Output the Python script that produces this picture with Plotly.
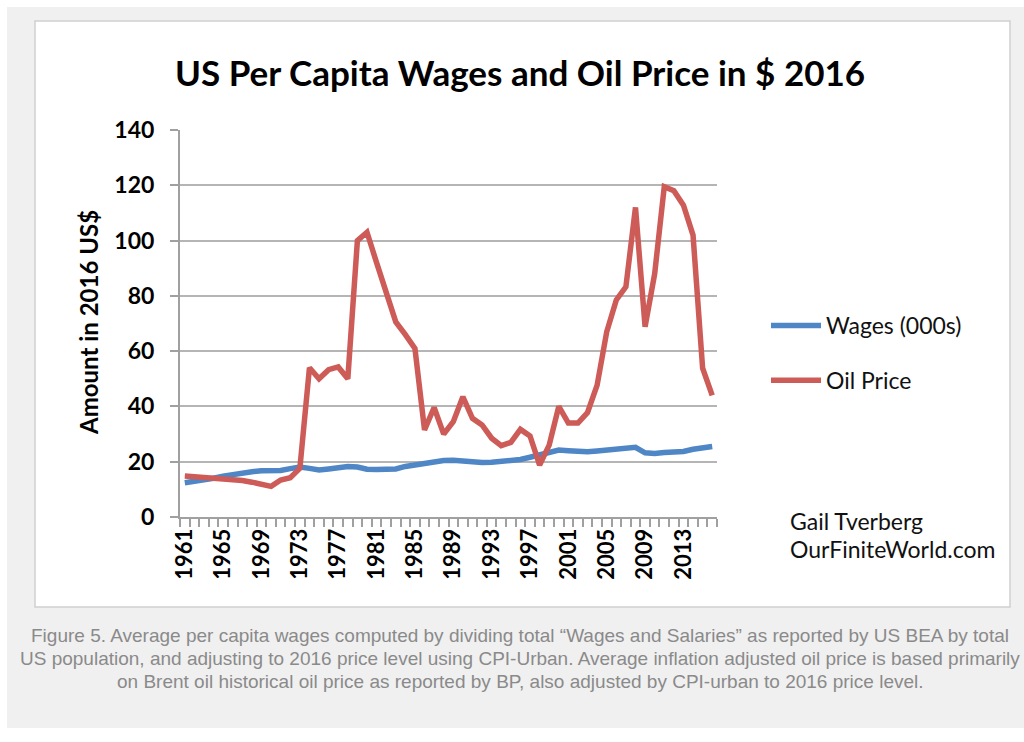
import plotly.graph_objects as go

years = list(range(1961, 2017))

wages = [12.4, 12.8, 13.3, 14.0, 14.8, 15.5, 15.9, 16.4, 16.7, 16.6,
         16.8, 17.5, 18.1, 17.6, 17.0, 17.4, 17.9, 18.3, 18.1, 17.3,
         17.2, 17.1, 17.4, 18.3, 18.9, 19.4, 19.9, 20.4, 20.5, 20.3,
         19.6, 19.7, 19.8, 20.0, 20.3, 20.8, 21.6, 22.5, 23.4, 24.2,
         24.0, 23.6, 23.6, 23.9, 24.2, 24.8, 25.0, 25.2, 23.2, 23.0,
         23.3, 23.6, 23.7, 24.5, 25.2, 25.5]

oil = [14.8, 14.6, 14.4, 14.1, 13.9, 13.6, 13.2, 12.6, 11.9, 11.1,
       13.4, 14.2, 17.6, 54.0, 50.0, 53.3, 54.3, 50.0, 100.0, 103.0,
       92.0, 81.0, 70.6, 66.0, 61.0, 31.5, 39.6, 30.0, 34.5, 43.5,
       35.7, 33.3, 28.5, 25.8, 27.0, 31.7, 29.3, 18.8, 26.0, 40.0,
       34.0, 34.0, 37.8, 47.7, 67.0, 78.5, 83.3, 112.0, 68.8, 88.0,
       119.5, 118.0, 112.8, 102.0, 53.8, 44.0]

tick_years = list(range(1961, 2016, 4))
tick_labels = [str(y) for y in tick_years]

title_text = "US Per Capita Wages and Oil Price in $ 2016"
y_title = "Amount in 2016 US$"
credits = ["Gail Tverberg", "OurFiniteWorld.com"]
caption_lines = [
    "Figure 5. Average per capita wages computed by dividing total \u201cWages and Salaries\u201d as reported by US BEA by total",
    "US population, and adjusting to 2016 price level using CPI-Urban. Average inflation adjusted oil price is based primarily",
    "on Brent oil historical oil price as reported by BP, also adjusted by CPI-urban to 2016 price level.",
]

# layout geometry (pixels)
W, H = 1024, 742
L, R, T, B = 180, 717, 130, 517
PW, PH = R - L, B - T


def xp(px):
    return (px - L) / PW


def yp(py):
    return (B - py) / PH


BLUE = "#4F86C6"
RED = "#CD5B57"
FONT = "Lato"

fig = go.Figure()
fig.add_trace(go.Scatter(x=years, y=wages, mode="lines", name="Wages (000s)",
                         line=dict(color=BLUE, width=5.5), legendgroup="a"))
fig.add_trace(go.Scatter(x=years, y=oil, mode="lines", name="Oil Price",
                         line=dict(color=RED, width=5.5), legendgroup="b"))

shapes = [
    dict(type="rect", xref="paper", yref="paper", x0=xp(7), x1=xp(1040), y0=yp(728), y1=yp(7),
         fillcolor="#f0f0f0", line=dict(width=0), layer="below"),
    dict(type="rect", xref="paper", yref="paper", x0=xp(35), x1=xp(1010), y0=yp(607), y1=yp(21),
         fillcolor="#ffffff", line=dict(color="#cfcfcf", width=1.5), layer="below"),
]

annotations = [
    dict(text="<b>" + title_text + "</b>", x=xp(520), y=yp(72), xref="paper", yref="paper",
         showarrow=False, xanchor="center", yanchor="middle",
         font=dict(family=FONT, size=35, color="#000")),
    dict(text="<b>" + y_title + "</b>", x=xp(88), y=yp(322), xref="paper", yref="paper",
         showarrow=False, xanchor="center", yanchor="middle", textangle=-90,
         font=dict(family=FONT, size=24, color="#000")),
]
for i, c in enumerate(credits):
    annotations.append(dict(text=c, x=xp(788), y=yp(521 + 28 * i), xref="paper", yref="paper",
                            showarrow=False, xanchor="left", yanchor="middle",
                            font=dict(family=FONT, size=23, color="#111")))
for i, c in enumerate(caption_lines):
    annotations.append(dict(text=c, x=xp(520), y=yp(635 + 23 * i), xref="paper", yref="paper",
                            showarrow=False, xanchor="center", yanchor="middle",
                            font=dict(family="Liberation Sans, Arial", size=19, color="#8a8a8a")))

fig.update_layout(
    width=W, height=H,
    margin=dict(l=L, r=W - R, t=T, b=H - B, pad=0),
    paper_bgcolor="#ffffff",
    plot_bgcolor="rgba(0,0,0,0)",
    shapes=shapes,
    annotations=annotations,
    showlegend=True,
    legend=dict(x=xp(766), y=yp(353), xanchor="left", yanchor="middle",
                font=dict(family=FONT, size=23, color="#111"),
                bgcolor="rgba(0,0,0,0)", tracegroupgap=22, itemwidth=50),
    xaxis=dict(range=[1960.5, 2016.5], tickmode="array", tickvals=tick_years, ticktext=tick_labels,
               tickangle=-90, ticks="outside", ticklen=1, tickcolor="rgba(0,0,0,0)",
               showgrid=False, zeroline=False, showline=True, linecolor="#a0a0a0", linewidth=2,
               tickfont=dict(family=FONT, size=22, color="#000", weight="bold"),
               minor=dict(ticks="outside", ticklen=8, tickcolor="#a0a0a0", tickwidth=1.5,
                          tickmode="linear", tick0=1960.5, dtick=1, showgrid=False),
               fixedrange=True),
    yaxis=dict(range=[0, 140], dtick=20, tick0=0, ticks="outside", ticklen=8, tickcolor="#a0a0a0",
               tickwidth=1.5, showgrid=True, gridcolor="#b5b5b5", gridwidth=2, zeroline=False,
               showline=True, linecolor="#a0a0a0", linewidth=2, ticklabelstandoff=11,
               tickfont=dict(family=FONT, size=23, color="#000", weight="bold"), fixedrange=True),
)

fig.write_html("out.html", config={"displayModeBar": False},
               post_script="document.body.style.margin='0';document.body.style.overflow='hidden';")
